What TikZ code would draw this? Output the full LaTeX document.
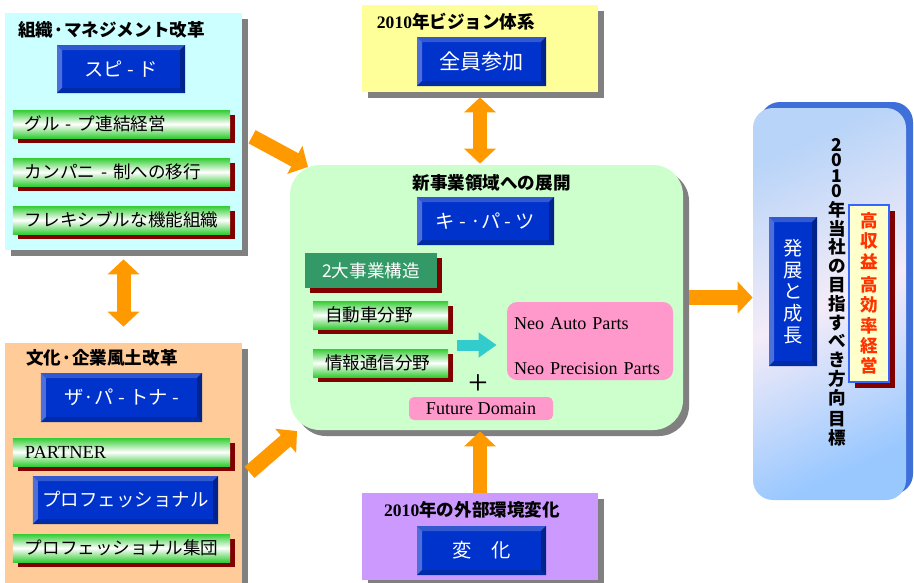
\documentclass[tikz,border=0pt]{standalone}
\usepackage{fontspec}
\setmainfont{Liberation Serif}
\newfontfamily\jp{Noto Sans CJK JP}
\usetikzlibrary{arrows.meta,shadows,positioning}

\definecolor{orgcyan}{HTML}{CCFFFF}
\definecolor{culturepeach}{HTML}{FFCC99}
\definecolor{visionyellow}{HTML}{FFFF99}
\definecolor{changepurple}{HTML}{CC99FF}
\definecolor{fieldgreen}{HTML}{CCFFCC}
\definecolor{panelgray}{HTML}{808080}
\definecolor{btnblue}{HTML}{0033CC}
\definecolor{btntop}{HTML}{3359D1}
\definecolor{btnleft}{HTML}{4D6FDA}
\definecolor{btnbottom}{HTML}{002BA8}
\definecolor{btnright}{HTML}{00248C}
\definecolor{barshadow}{HTML}{800000}
\definecolor{bargreen}{HTML}{33CC33}
\definecolor{twogreen}{HTML}{339966}
\definecolor{neopink}{HTML}{FF99CC}
\definecolor{arroworange}{HTML}{FF9900}
\definecolor{flowcyan}{HTML}{33CCCC}
\definecolor{goalfill}{HTML}{FFFFCC}
\definecolor{goalred}{HTML}{FF3300}
\definecolor{goalblue}{HTML}{3366FF}
\definecolor{faceside}{HTML}{3F6FD8}
\definecolor{facetop}{HTML}{B8D4F8}
\definecolor{facemid}{HTML}{F4ECF8}
\definecolor{facebottom}{HTML}{99C8FF}

\newcommand{\bevelpic}{%
  \fill[btntop] (path picture bounding box.north west) -- (path picture bounding box.north east)
    -- ([shift={(-1mm,-1mm)}]path picture bounding box.north east)
    -- ([shift={(1mm,-1mm)}]path picture bounding box.north west) -- cycle;
  \fill[btnleft] (path picture bounding box.north west) -- ([shift={(1mm,-1mm)}]path picture bounding box.north west)
    -- ([shift={(1mm,1mm)}]path picture bounding box.south west)
    -- (path picture bounding box.south west) -- cycle;
  \fill[btnbottom] (path picture bounding box.south west) -- (path picture bounding box.south east)
    -- ([shift={(-1mm,1mm)}]path picture bounding box.south east)
    -- ([shift={(1mm,1mm)}]path picture bounding box.south west) -- cycle;
  \fill[btnright] (path picture bounding box.north east) -- (path picture bounding box.south east)
    -- ([shift={(-1mm,1mm)}]path picture bounding box.south east)
    -- ([shift={(-1mm,-1mm)}]path picture bounding box.north east) -- cycle;
}

\tikzset{%
  >={Triangle[length=3mm,width=6.2mm]},
            base/.style = {rectangle, inner sep=0pt, text centered, font=\jp},
  panel/.style = {base, drop shadow={shadow xshift=1.2mm, shadow yshift=-1.2mm, fill=panelgray, opacity=1}},
  title/.style = {base, font=\jp\bfseries\fontsize{10}{12}\selectfont},
  btn/.style   = {base, fill=btnblue, text=white, font=\jp\fontsize{11}{13}\selectfont, path picture={\bevelpic}},
  bar/.style   = {base, minimum height=5.6mm, inner xsep=2.4mm, align=left,
                  top color=bargreen, bottom color=bargreen, middle color=white,
                  font=\jp\fontsize{10}{12}\selectfont,
                  drop shadow={shadow xshift=1mm, shadow yshift=-1mm, fill=barshadow, opacity=1}},
  neo/.style   = {base, fill=neopink, font=\rmfamily\fontsize{10.3}{13}\selectfont},
  big/.style   = {arroworange, line width=2.8mm},
}

\begin{document}
\begin{tikzpicture}[x=0.2mm, y=-0.2mm, node distance=9.6mm, align=center]
  \useasboundingbox (0,0) rectangle (914,582);

  \node (onOrg)      [panel, fill=orgcyan,      minimum width=47.4mm, minimum height=47.4mm] at (123.5,131.5) {};
  \node (onCulture)  [panel, fill=culturepeach, minimum width=47.4mm, minimum height=49.4mm] at (123.5,466.5) {};
  \node (onVision)   [panel, fill=visionyellow, minimum width=47.2mm, minimum height=17.4mm] at (480,48.5) {};
  \node (onChange)   [panel, fill=changepurple, minimum width=47.2mm, minimum height=17.4mm] at (480,536.5) {};
  \node (onNewField) [panel, fill=fieldgreen, rounded corners=6mm, minimum width=78.6mm, minimum height=53mm] at (486.5,297.5) {};
  \node (onFace)     [base, top color=facetop, bottom color=facebottom, middle color=facemid, shading angle=25,
                      rounded corners=4mm, minimum width=30.6mm, minimum height=78.4mm,
                      general shadow={shadow xshift=1.4mm, shadow yshift=1.2mm, fill=faceside}] at (829.5,304) {};

  % organisation
  \node (on_title_1) [title] at (111.5,30) {組織·マネジメント改革};
  \node (onSpeed)    [btn, minimum width=25.6mm, minimum height=9.6mm] at (121,69) {スピ - ド};
  \node (onGroup)    [bar, text width=38.6mm] at (121.5,124) {グル - プ連結経営};
  \node (onCompany)  [bar, text width=38.6mm, below of=onGroup]   {カンパニ - 制への移行};
  \node (onFlexible) [bar, text width=38.6mm, below of=onCompany] {フレキシブルな機能組織};

  % culture
  \node (on_title_2)     [title] at (102,358) {文化·企業風土改革};
  \node (onThePartner)   [btn, minimum width=32.2mm, minimum height=9.8mm] at (121.5,397.5) {ザ·パ - トナ -};
  \node (onPartner)      [bar, text width=38.6mm, font=\rmfamily\fontsize{10.5}{12}\selectfont] at (121.5,452) {PARTNER};
  \node (onProfessional) [btn, minimum width=37mm, minimum height=9.6mm, below of=onPartner, xshift=0.8mm,
                          font=\jp\fontsize{10.5}{12}\selectfont] {プロフェッショナル};
  \node (onProTeam)      [bar, text width=38.6mm, below of=onProfessional, xshift=-0.8mm] {プロフェッショナル集団};

  % vision and change
  \node (on_title_3) [title] at (456,22) {{\rmfamily 2010}年ビジョン体系};
  \node (onAll)      [btn, minimum width=25.8mm, minimum height=9.8mm, font=\jp\fontsize{12}{14}\selectfont] at (481.5,61.5) {全員参加};
  \node (on_title_4) [title] at (472,510) {{\rmfamily 2010}年の外部環境変化};
  \node (onHenka)    [btn, minimum width=25.8mm, minimum height=9.8mm] at (481.5,550.5) {変　化};

  % new field
  \node (on_title_5) [title] at (491.5,183) {新事業領域への展開};
  \node (onKeyParts) [btn, minimum width=27.4mm, minimum height=9.6mm] at (485.5,221) {キ - ·パ - ツ};
  \node (onTwoBiz)   [base, fill=twogreen, text=white, minimum width=26.4mm, minimum height=7mm,
                      font=\jp\fontsize{10}{12}\selectfont,
                      drop shadow={shadow xshift=1mm, shadow yshift=-1mm, fill=barshadow, opacity=1}] at (371,270.5) {2大事業構造};
  \node (onAuto)     [bar, text width=22.2mm] at (380.5,315) {自動車分野};
  \node (onInfo)     [bar, text width=22.2mm, below of=onAuto] {情報通信分野};
  \node (onNeo)      [neo, rounded corners=2mm, minimum height=15.6mm, text width=30.4mm, inner xsep=1.4mm, align=left]
                     at (590,341) {\rule{0pt}{13pt}Neo Auto Parts\\[12.6pt]Neo Precision Parts};
  \node (onPlus)     [base, font=\rmfamily\fontsize{20}{20}\selectfont] at (478,385) {+};
  \node (onFuture)   [neo, rounded corners=1mm, minimum width=28.8mm, minimum height=4.6mm] at (481,408.5) {Future Domain};
  \coordinate (onFlow) at (457,345);

  % goal
  \node (onGrowth) [btn, minimum width=9.6mm, minimum height=29.8mm, font=\jp\fontsize{11}{12.3}\selectfont]
                   at (793,291.5) {発\\展\\と\\成\\長};
  \node (onAim)    [title, font=\jp\bfseries\fontsize{10}{10.7}\selectfont] at (837,292.5)
                   {2\\[-2pt]0\\[-2pt]1\\[-2pt]0\\年\\当\\社\\の\\目\\指\\す\\べ\\き\\方\\向\\[1.5pt]目\\標};
  \node (onProfit) [base, fill=goalfill, draw=goalblue, line width=0.8pt, text=goalred,
                    minimum width=8mm, minimum height=35.4mm, font=\jp\bfseries\fontsize{10}{11.6}\selectfont,
                    drop shadow={shadow xshift=1.2mm, shadow yshift=-1.2mm, fill=barshadow, opacity=1}]
                   at (869,293.5) {高\\収\\益\\[1.5pt]高\\効\\率\\経\\営};

  \coordinate (onTipA) at (308,167);
  \coordinate (onTipB) at (297,431);

  \draw[big, <->, shorten <=1.8mm, shorten >=3.2mm] (onOrg) -- (onCulture);
  \draw[big, <->, shorten <=1mm, shorten >=0.2mm]   (onVision.south) -- (onVision.south |- onNewField.north);
  \draw[big, ->, shorten >=0.2mm]                   (onChange.north) -- (onChange.north |- onNewField.south);
  \draw[big, ->, line width=3mm, shorten <=2.2mm]   (onOrg.east) -- (onTipA);
  \draw[big, ->, line width=3mm, shorten <=1.9mm]   ([yshift=-2.4mm]onCulture.east) -- (onTipB);
  \draw[big, ->, line width=3mm, shorten <=1.2mm]   (onNewField.east) -- (onNewField.east -| onFace.west);
  \draw[flowcyan, line width=2.2mm, -{Triangle[length=3.6mm,width=4.8mm]}, shorten >=2mm] (onFlow) -- (onFlow -| onNeo.west);
\end{tikzpicture}
\end{document}
